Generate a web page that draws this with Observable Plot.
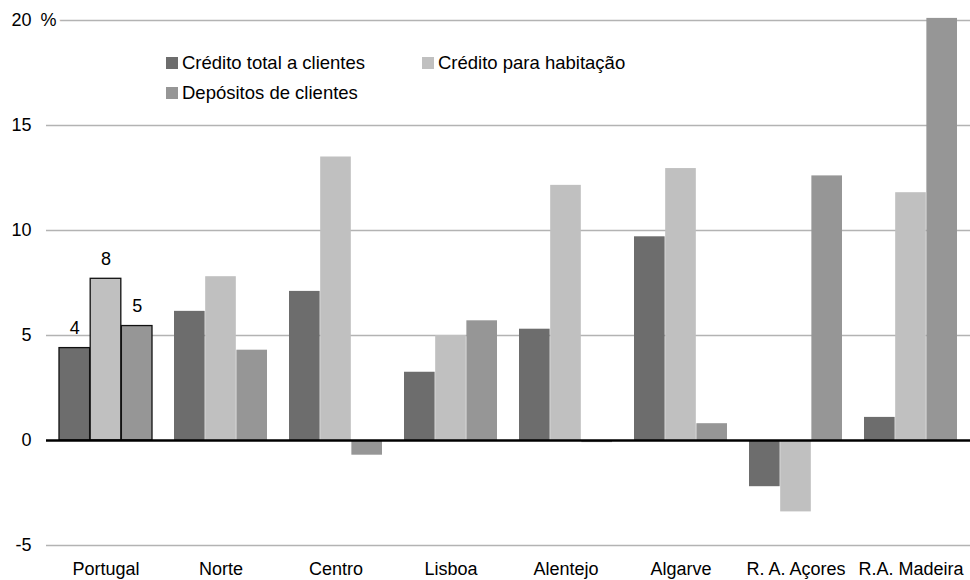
<!DOCTYPE html>
<html>
<head>
<meta charset="utf-8">
<script src="https://cdn.jsdelivr.net/npm/d3@7"></script>
<script src="https://cdn.jsdelivr.net/npm/@observablehq/plot@0.6"></script>
<style>
  html, body { margin: 0; padding: 0; background: #fff; }
  #wrap { position: relative; width: 970px; height: 580px; font-family: "Liberation Sans", Arial, sans-serif; }
  .legend { position: absolute; left: 0; top: 0; width: 970px; height: 0; font-size: 18.5px; color: #000; }
  .item { position: absolute; display: flex; align-items: center; white-space: nowrap; height: 20px; }
  .sw { width: 12px; height: 12px; margin-right: 4px; }
</style>
</head>
<body>
<div id="wrap"></div>
<script>
const regions = ["Portugal", "Norte", "Centro", "Lisboa", "Alentejo", "Algarve", "R. A. Açores", "R.A. Madeira"];
const seriesNames = ["Crédito total a clientes", "Crédito para habitação", "Depósitos de clientes"];
const creditTotal = [4.4, 6.15, 7.1, 3.25, 5.3, 9.7, -2.2, 1.1];
const creditHousing = [7.7, 7.8, 13.5, 5.0, 12.15, 12.95, -3.4, 11.8];
const deposits = [5.45, 4.3, -0.7, 5.7, -0.1, 0.8, 12.6, 20.1];
const yTicks = [-5, 0, 5, 10, 15, 20];
const gridTicks = [-5, 5, 10, 15, 20];
const colors = ["#6d6d6d", "#c0c0c0", "#969696"];

const seriesValues = [creditTotal, creditHousing, deposits];
const rows = seriesValues.map(vals => regions.map((r, i) => ({region: r, value: vals[i]})));

const W = 970, left = 46;
const pi = 0.19, po = 0.095;
const step = (W - left) / (regions.length - pi + 2 * po);
const bw = step * (1 - pi);
const w = bw / 3;

const marks = [
  Plot.ruleY(gridTicks, {stroke: "#b3b3b3", strokeWidth: 1.3}),
];
seriesValues.forEach((vals, s) => {
  marks.push(Plot.barY(rows[s], {x: "region", y: "value", fill: colors[s],
    insetLeft: s * w, insetRight: (2 - s) * w}));
  marks.push(Plot.barY(rows[s].filter(d => d.region === regions[0]), {x: "region", y: "value", fill: colors[s],
    stroke: "#111", strokeWidth: 1.3, insetLeft: s * w, insetRight: (2 - s) * w}));
  marks.push(Plot.text(rows[s].filter(d => d.region === regions[0]), {x: "region", y: "value",
    text: d => String(Math.round(d.value)), dx: (s - 1) * w, dy: -20, fontSize: 18, fill: "#000"}));
});
marks.push(Plot.ruleY([0], {stroke: "#000", strokeWidth: 2.6}));
marks.push(Plot.text(["%"], {frameAnchor: "top-left", lineAnchor: "middle", text: d => d, textAnchor: "middle", dx: 2, fontSize: 18,
  fill: "#000", stroke: "#fff", strokeWidth: 8}));
marks.push(Plot.axisY({ticks: yTicks, tickFormat: d => String(d), tickSize: 0, tickPadding: 15, fontSize: 18, label: null}));
marks.push(Plot.axisX({tickSize: 0, tickPadding: 17, fontSize: 18, label: null}));

const chart = Plot.plot({
  width: W,
  height: 580,
  marginLeft: left,
  marginRight: 0,
  marginTop: 20,
  marginBottom: 35,
  style: {fontFamily: "'Liberation Sans', Arial, sans-serif", fontSize: "18px", color: "#000", background: "#fff"},
  x: {domain: regions, range: [left, W], paddingInner: pi, paddingOuter: po, label: null},
  y: {domain: [-5, 20], label: null},
  marks
});
const wrap = document.getElementById("wrap");
wrap.appendChild(chart);

const legend = document.createElement("div");
legend.className = "legend";
const pos = [[166, 53], [422, 53], [166, 83]];
seriesNames.forEach((name, i) => {
  const it = document.createElement("div");
  it.className = "item";
  it.style.left = pos[i][0] + "px";
  it.style.top = pos[i][1] + "px";
  const sw = document.createElement("div");
  sw.className = "sw";
  sw.style.background = colors[i];
  const t = document.createElement("span");
  t.textContent = name;
  it.appendChild(sw); it.appendChild(t);
  legend.appendChild(it);
});
wrap.appendChild(legend);
</script>
</body>
</html>
